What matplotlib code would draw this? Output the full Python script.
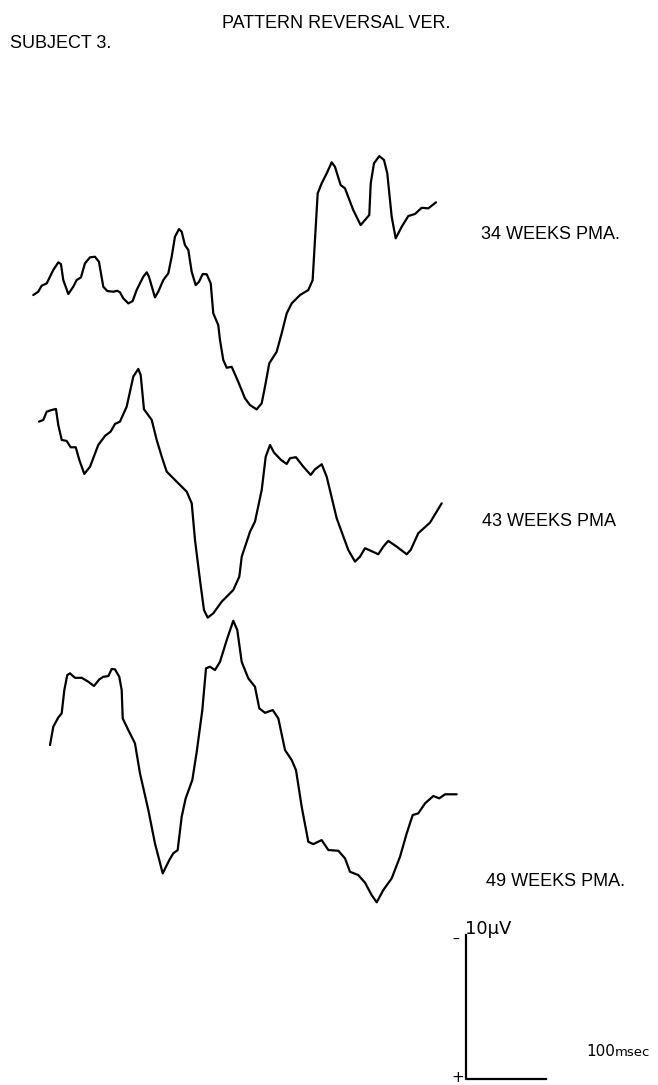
import numpy as np
import matplotlib
matplotlib.use("Agg")
import matplotlib.pyplot as plt

# pattern reversal VEP traces, subject 3
# time in ms from trace onset, amplitude in uV relative to first sample (negative up)
t_34 = [0, 6.2, 10.5, 16.8, 25, 31.2, 34.6, 37.5, 43.8, 50, 54.2, 59.6, 64.6, 70.9,
        77.1, 82.1, 87.5, 92.5, 100, 105, 108.4, 112.5, 118.8, 124.2, 129.2, 137.5,
        141.8, 144.6, 152.1, 156.2, 162.5, 168.8, 173, 177.1, 182.1, 185.5, 189.6,
        193.8, 198, 203, 207.1, 211.8, 216.8, 221.8, 225, 231.2, 233.4, 237.5, 241.8,
        248, 256.2, 264.6, 270.9, 279.2, 285.5, 289.6, 295, 304.2, 310.5, 316.8, 323,
        333.4, 343.8, 349.2, 352.1, 355.5, 360.5, 366.8, 373, 377.1, 384.2, 389.6, 400,
        409.2, 414.6, 420, 421.8, 425.9, 432.5, 438.4, 442.5, 448, 453, 460.5, 468.8,
        477.1, 485.5, 493.8, 503.4]
v_34 = [0, -0.23, -0.65, -0.81, -1.74, -2.27, -2.15, -1.04, -0.07, -0.58, -1.04, -1.23,
        -2.20, -2.62, -2.66, -2.31, -0.58, -0.28, -0.23, -0.30, -0.19, 0.23, 0.58, 0.42,
        -0.35, -1.27, -1.58, -1.27, 0.16, -0.23, -1.04, -1.51, -2.66, -4.05, -4.58,
        -4.40, -3.47, -3.13, -1.62, -0.69, -0.92, -1.46, -1.44, -0.81, 1.27, 2.08, 3.13,
        4.51, 5.05, 4.98, 6.02, 7.17, 7.64, 7.94, 7.52, 6.37, 4.74, 3.94, 2.66, 1.27,
        0.58, 0, -0.35, -1.04, -3.82, -7.06, -7.76, -8.45, -9.22, -8.91, -7.64, -7.41,
        -5.90, -4.86, -5.21, -5.56, -7.76, -9.15, -9.65, -9.38, -8.45, -5.44, -3.94,
        -4.74, -5.49, -5.63, -6.06, -6.02, -6.44]

t_43 = [0, 5.4, 9.6, 15.9, 21.2, 24.1, 28.4, 34.6, 39.6, 45.9, 50.4, 56.6, 63.8, 74.1,
        82.5, 89.6, 95, 101.2, 109.6, 117.9, 124.1, 127.1, 131.2, 140.9, 147.1, 153.4,
        159.6, 172.1, 184.6, 190.9, 195, 201.2, 206.2, 210.9, 217.9, 228.4, 242.9,
        250.4, 253.4, 263.8, 270, 278.4, 283.4, 288.8, 293.8, 302.5, 309.6, 313.8,
        321.2, 330.4, 339.6, 345, 353.4, 359.6, 372.1, 386.6, 395, 401.2, 407.5, 417.1,
        424.1, 430.4, 436.6, 447.1, 459.6, 464.6, 474.1, 488.8, 503.4]
v_43 = [0, -0.12, -0.69, -0.81, -0.88, 0.23, 1.27, 1.34, 1.78, 1.78, 2.66, 3.63, 3.13,
        1.62, 0.99, 0.69, 0.16, 0, -1.04, -3.13, -3.66, -3.24, -0.86, -0.12, 1.27, 2.43,
        3.47, 4.17, 4.86, 5.67, 8.22, 10.99, 13.08, 13.61, 13.31, 12.5, 11.69, 10.76,
        9.38, 7.64, 6.94, 4.74, 2.43, 1.62, 2.15, 2.66, 2.94, 2.54, 2.47, 3.13, 3.70,
        3.31, 2.96, 3.82, 6.71, 8.91, 9.72, 9.38, 8.79, 9.03, 9.21, 8.68, 8.28, 8.68,
        9.21, 8.91, 7.75, 7.01, 5.67]

t_49 = [0, 4.1, 10.4, 14.6, 17.9, 21.6, 25, 31.2, 39.6, 47.9, 55, 61.6, 66.6, 72.9,
        77.1, 81.2, 86.6, 89.6, 90.9, 97.9, 106.2, 112.5, 122.9, 131.2, 140.9, 149.1,
        154.1, 159.6, 164.6, 169.6, 177.9, 183.4, 190.4, 195, 200, 206.2, 212.5, 220.9,
        229.1, 234.1, 239.6, 247.9, 256.2, 261.6, 268.8, 278.4, 285.4, 293.8, 302.1,
        307.5, 314.6, 322.9, 329.1, 339.6, 347.9, 360.4, 368.8, 375, 385.4, 393.8,
        402.1, 408.4, 416.6, 427.1, 437.5, 445.9, 453.4, 460.4, 468.8, 479.1, 486.6,
        493.8, 508.4]
v_49 = [0, -1.27, -1.92, -2.20, -3.82, -4.86, -4.98, -4.67, -4.67, -4.40, -4.10, -4.56,
        -4.74, -4.79, -5.28, -5.26, -4.74, -3.82, -1.85, -1.04, -0.12, 1.97, 4.51, 6.83,
        8.91, 7.99, 7.52, 7.29, 4.98, 3.70, 2.43, 0.47, -2.43, -5.33, -5.44, -5.21,
        -5.78, -7.29, -8.63, -7.99, -5.78, -4.63, -4.05, -2.55, -2.24, -2.43, -1.85,
        0.35, 1.04, 1.74, 4.28, 6.72, 6.88, 6.60, 7.29, 7.34, 7.87, 8.80, 9.03, 9.56,
        10.42, 10.92, 10.07, 9.26, 7.76, 6.13, 4.86, 4.74, 4.05, 3.54, 3.70, 3.42, 3.42]

labels = ["34 WEEKS PMA.", "43 WEEKS PMA", "49 WEEKS PMA."]
scale_uv = 10
scale_ms = 100

# page layout: 0.8 px per ms, 14.4 px per uV
W, H = 658, 1085
PX_PER_MS = 0.8
PX_PER_UV = 14.4

fig = plt.figure(figsize=(W / 100, H / 100), dpi=100)
ax = fig.add_axes([0, 0, 1, 1])
ax.set_xlim(0, W / PX_PER_MS)
ax.set_ylim(H / PX_PER_UV, 0)
ax.axis("off")

# onset of each trace on the page (ms, uV)
origins = [(41.6, 20.49), (48.75, 29.28), (62.5, 51.74)]
label_y = [234.5, 521.5, 881.5]
label_x = [481, 482, 486]

for (t, v), (x0, y0), lab, lx, ly in zip([(t_34, v_34), (t_43, v_43), (t_49, v_49)],
                                         origins, labels, label_x, label_y):
    ax.plot(np.array(t) + x0, np.array(v) + y0, color="black", lw=1.6,
            solid_joinstyle="round", solid_capstyle="round")
    fig.text(lx / W, 1 - ly / H, lab, fontsize=13, family="Liberation Sans",
             ha="left", va="center")

fig.text(222 / W, 1 - 24 / H, "PATTERN REVERSAL VER.", fontsize=13,
         family="Liberation Sans", ha="left", va="center")
fig.text(10 / W, 1 - 44 / H, "SUBJECT 3.", fontsize=13,
         family="Liberation Sans", ha="left", va="center")

# calibration bar
cx, cy = 466 / PX_PER_MS, 1079 / PX_PER_UV
ax.plot([cx, cx, cx + scale_ms], [cy - scale_uv, cy, cy], color="black", lw=1.6)
fig.text(465 / W, 1 - 929 / H, "10\u00b5V", fontsize=13, family="DejaVu Sans",
         ha="left", va="center")
fig.text(452 / W, 1 - 940 / H, "\u2013", fontsize=10, family="DejaVu Sans",
         ha="left", va="center")
fig.text(451 / W, 1 - 1078 / H, "+", fontsize=11, family="DejaVu Sans",
         ha="left", va="center")
fig.text(586 / W, 1 - 1056 / H, "100", fontsize=11, family="DejaVu Sans",
         ha="left", va="baseline")
fig.text(615 / W, 1 - 1056 / H, "msec", fontsize=9.5, family="DejaVu Sans",
         ha="left", va="baseline")

fig.savefig("out.png", dpi=100, facecolor="white")
